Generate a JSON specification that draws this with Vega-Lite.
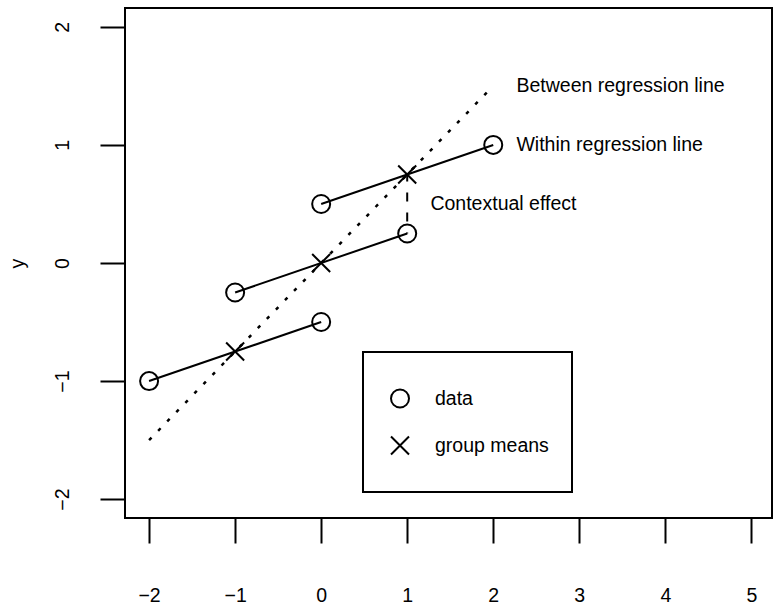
{
  "$schema": "https://vega.github.io/schema/vega-lite/v6.json",
  "width": 647,
  "height": 510,
  "autosize": {"type": "none"},
  "padding": {"left": 125, "top": 8, "right": 1, "bottom": 91},
  "background": "white",
  "datasets": {
    "pts": [
      {"x": -2, "y": -1, "type": "data", "group": 1},
      {"x": 0, "y": -0.5, "type": "data", "group": 1},
      {"x": -1, "y": -0.25, "type": "data", "group": 2},
      {"x": 1, "y": 0.25, "type": "data", "group": 2},
      {"x": 0, "y": 0.5, "type": "data", "group": 3},
      {"x": 2, "y": 1, "type": "data", "group": 3},
      {"x": -1, "y": -0.75, "type": "group means", "group": 1},
      {"x": 0, "y": 0, "type": "group means", "group": 2},
      {"x": 1, "y": 0.75, "type": "group means", "group": 3}
    ],
    "between": [
      {"x": -2, "y": -1.5},
      {"x": 2, "y": 1.5}
    ],
    "context": [
      {"x": 1, "y": 0.75, "y2": 0.25}
    ],
    "labels": [
      {"x": 2.27, "y": 1.5, "label": "Between regression line"},
      {"x": 2.27, "y": 1.0, "label": "Within regression line"},
      {"x": 1.27, "y": 0.5, "label": "Contextual effect"}
    ]
  },
  "config": {
    "view": {"stroke": "black", "strokeWidth": 2},
    "font": "Liberation Sans",
    "axis": {
      "grid": false,
      "domain": false,
      "tickColor": "black",
      "tickWidth": 2,
      "tickSize": 25,
      "labelFont": "Liberation Sans",
      "labelFontSize": 19.5,
      "labelColor": "black",
      "labelFlush": false,
      "labelOverlap": false,
      "titleFont": "Liberation Sans",
      "titleFontSize": 19.5,
      "titleFontWeight": "normal",
      "titleColor": "black"
    },
    "legend": {
      "strokeColor": "black",
      "strokeWidth": 2,
      "fillColor": "white",
      "labelFont": "Liberation Sans",
      "labelFontSize": 19.5,
      "labelColor": "black"
    }
  },
  "encoding": {
    "x": {
      "field": "x",
      "type": "quantitative",
      "scale": {"domain": [-2.28, 5.24], "nice": false, "zero": false},
      "axis": {
        "values": [-2, -1, 0, 1, 2, 3, 4, 5],
        "title": null,
        "labelBaseline": "alphabetic",
        "labelPadding": 58
      }
    },
    "y": {
      "field": "y",
      "type": "quantitative",
      "scale": {"domain": [-2.16, 2.16], "nice": false, "zero": false},
      "axis": {
        "values": [-2, -1, 0, 1, 2],
        "title": "y",
        "labelAngle": -90,
        "labelAlign": "center",
        "labelBaseline": "alphabetic",
        "labelPadding": 31.5,
        "titleAngle": -90,
        "titleAlign": "center",
        "titleBaseline": "alphabetic",
        "titleX": -102,
        "titleY": 255
      }
    }
  },
  "layer": [
    {
      "data": {"name": "between"},
      "mark": {"type": "line", "color": "black", "strokeWidth": 2.5, "strokeDash": [3.5, 9.5], "strokeCap": "butt"},
      "encoding": {}
    },
    {
      "data": {"name": "pts"},
      "transform": [{"filter": "datum.type === 'data'"}],
      "mark": {"type": "line", "color": "black", "strokeWidth": 2},
      "encoding": {"detail": {"field": "group", "type": "nominal"}}
    },
    {
      "data": {"name": "context"},
      "mark": {"type": "rule", "color": "black", "strokeWidth": 2, "strokeDash": [9, 11], "strokeDashOffset": 2},
      "encoding": {"y2": {"field": "y2"}}
    },
    {
      "data": {"name": "pts"},
      "mark": {"type": "point", "filled": false, "color": "black", "strokeWidth": 2, "size": 324, "opacity": 1},
      "encoding": {
        "shape": {
          "field": "type",
          "type": "nominal",
          "scale": {"domain": ["data", "group means"], "range": ["circle", "M-1,-1L1,1M-1,1L1,-1"]},
          "legend": {
            "title": null,
            "orient": "none",
            "legendX": 238,
            "legendY": 344,
            "padding": 23,
            "clipHeight": 47,
            "rowPadding": 0,
            "symbolSize": 324,
            "symbolStrokeWidth": 2,
            "symbolStrokeColor": "black",
            "symbolOffset": 4,
            "labelOffset": 25
          }
        }
      }
    },
    {
      "data": {"name": "labels"},
      "mark": {"type": "text", "align": "left", "baseline": "middle", "fontSize": 19.5, "font": "Liberation Sans", "color": "black"},
      "encoding": {"text": {"field": "label", "type": "nominal"}}
    }
  ]
}
